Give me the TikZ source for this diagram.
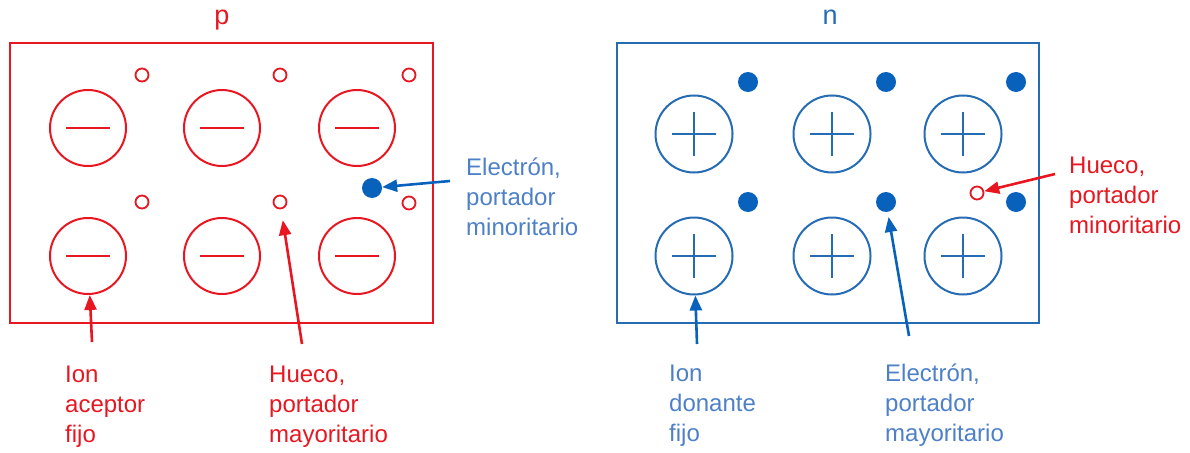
\documentclass[tikz,border=0pt]{standalone}
\usepackage{fontspec}
\setmainfont{Liberation Sans}
\usetikzlibrary{arrows.meta,positioning}

\definecolor{pRed}{RGB}{232,22,32}
\definecolor{nBlue}{RGB}{38,108,180}
\definecolor{eBlue}{RGB}{8,98,188}
\definecolor{tBlue}{RGB}{78,128,200}

\begin{document}
\begin{tikzpicture}[x=1pt, y=-1pt]
		\tikzstyle{Box}		= [line width=2.6pt]
		\tikzstyle{Acceptor}	= [circle, draw=pRed, line width=2pt, minimum size=76pt, inner sep=0pt,
					   path picture={\draw [pRed, line width=2pt] ([xshift=-22pt]path picture bounding box.center) -- ([xshift=22pt]path picture bounding box.center);}]
		\tikzstyle{Donor}	= [circle, draw=nBlue, line width=2pt, minimum size=77pt, inner sep=0pt,
					   path picture={\draw [nBlue, line width=2pt] ([xshift=-22pt]path picture bounding box.center) -- ([xshift=22pt]path picture bounding box.center)
					   ([yshift=-22pt]path picture bounding box.center) -- ([yshift=22pt]path picture bounding box.center);}]
		\tikzstyle{Hole}	= [circle, draw=pRed, line width=1.8pt, fill=white, minimum size=13pt, inner sep=0pt]
		\tikzstyle{Electron}	= [circle, fill=eBlue, minimum size=20pt, inner sep=0pt]
		\tikzstyle{Label}	= [anchor=base west, align=left, inner sep=0pt, font=\fontsize{24}{30}\selectfont]
		\tikzstyle{Title}	= [font=\fontsize{27}{30}\selectfont, inner sep=0pt, anchor=base]
		\tikzstyle{RedArr}	= [-{Triangle[length=15pt, width=12pt]}, pRed, line width=2.6pt]
		\tikzstyle{BlueArr}	= [-{Triangle[length=15pt, width=12pt]}, eBlue, line width=2.6pt]

		\useasboundingbox (0,0) rectangle (1190,452);

		% p side
		\node (tp) at (222,25) [Title, pRed] {p};
		\draw [Box, pRed] (10,43) rectangle (433,323);

		\node (ap1) at (88,128) [Acceptor] {};
		\node (ap2) at (222,128) [Acceptor] {};
		\node (ap3) at (357,128) [Acceptor] {};
		\node (ap4) at (88,256) [Acceptor] {};
		\node (ap5) at (222,256) [Acceptor] {};
		\node (ap6) at (357,256) [Acceptor] {};

		\node (hp1) at (142,75) [Hole] {};
		\node (hp2) at (280,75) [Hole] {};
		\node (hp3) at (409,75) [Hole] {};
		\node (hp4) at (142,202) [Hole] {};
		\node (hp5) at (280,202) [Hole] {};
		\node (hp6) at (409,203) [Hole] {};

		\node (ep) at (372,188) [Electron] {};

		% base = last line
		\node (lEp) at (466,235) [Label, tBlue] {Electrón,\\portador\\minoritario};
		\node (lAcc) at (65,442) [Label, pRed] {Ion\\aceptor\\fijo};
		\node (lHp) at (269,442) [Label, pRed] {Hueco,\\portador\\mayoritario};

		\coordinate (cEp) at (450,181);
		\coordinate (cAcc) at (92,342);
		\coordinate (cHp) at (302,344);

		\draw (cEp) to (ep) [BlueArr];
		\draw (cAcc) to (ap4) [RedArr];
		\draw (cHp) to (hp5) [RedArr, shorten >=11pt];

		% n side
		\node (tn) at (830,25) [Title, nBlue] {n};
		\draw [Box, nBlue] (617,43) rectangle (1039,323);

		\node (dn1) at (694,134) [Donor] {};
		\node (dn2) at (832,134) [Donor] {};
		\node (dn3) at (963,134) [Donor] {};
		\node (dn4) at (694,256) [Donor] {};
		\node (dn5) at (832,256) [Donor] {};
		\node (dn6) at (963,256) [Donor] {};

		\node (en1) at (748,82) [Electron] {};
		\node (en2) at (886,82) [Electron] {};
		\node (en3) at (1016,82) [Electron] {};
		\node (en4) at (748,202) [Electron] {};
		\node (en5) at (886,202) [Electron] {};
		\node (en6) at (1016,202) [Electron] {};

		\node (hn) at (977,193) [Hole] {};

		\node (lHn) at (1069,233) [Label, pRed] {Hueco,\\portador\\minoritario};
		\node (lDon) at (669,441) [Label, tBlue] {Ion\\donante\\fijo};
		\node (lEn) at (885,441) [Label, tBlue] {Electrón,\\portador\\mayoritario};

		\coordinate (cHn) at (1055,174);
		\coordinate (cDon) at (697,344);
		\coordinate (cEn) at (909,336);

		\draw (cHn) to (hn) [RedArr];
		\draw (cDon) to (dn4) [BlueArr];
		\draw (cEn) to (en5) [BlueArr, shorten >=5pt];
	\end{tikzpicture}
\end{document}
